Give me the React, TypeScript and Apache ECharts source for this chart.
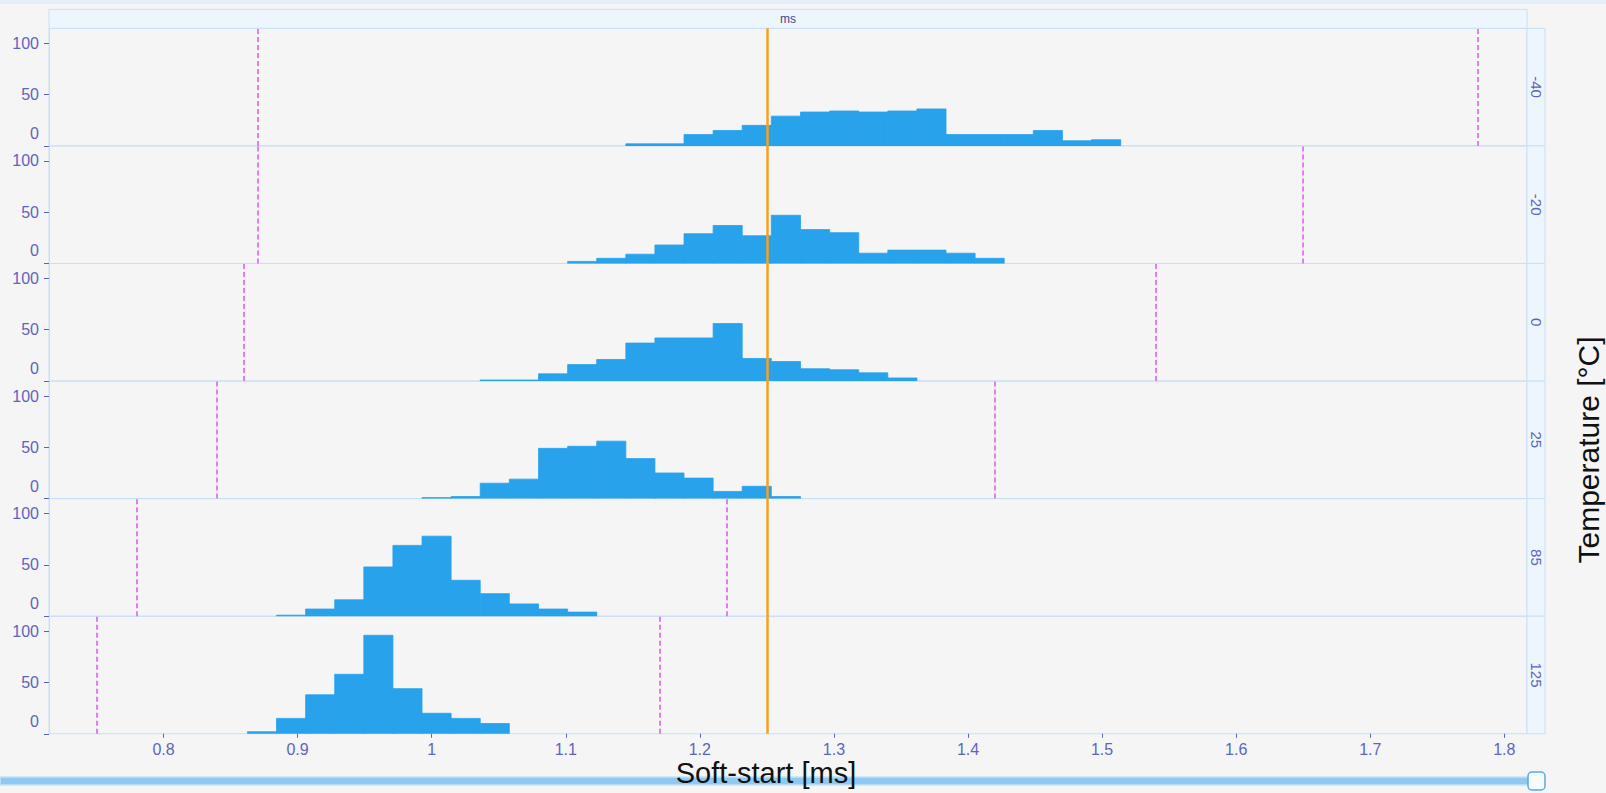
import React, { useEffect, useRef } from "react";
import * as echarts from "echarts";

// ---------- data ----------
const TEMPERATURES = ["-40", "-20", "0", "25", "85", "125"];

// histogram bin edges (ms)
const BIN_EDGES = [
  0.8626, 0.8843, 0.906, 0.9277, 0.9494, 0.9711, 0.9928, 1.0145, 1.0362, 1.0579,
  1.0797, 1.1014, 1.1231, 1.1448, 1.1665, 1.1882, 1.2099, 1.2316, 1.2533, 1.2751,
  1.2968, 1.3185, 1.3402, 1.3619, 1.3836, 1.4053, 1.427, 1.4487, 1.4704, 1.4921, 1.5139,
];

const COUNTS_M40 = [0, 0, 0, 0, 0, 0, 0, 0, 0, 0, 0, 0, 0, 2, 2, 11, 15, 20, 29, 33, 34, 33, 34, 36, 11, 11, 11, 15, 5, 6];
const COUNTS_M20 = [0, 0, 0, 0, 0, 0, 0, 0, 0, 0, 0, 2, 5, 9, 18, 29, 37, 27, 47, 33, 30, 10, 13, 13, 10, 5, 0, 0, 0, 0];
const COUNTS_0 = [0, 0, 0, 0, 0, 0, 0, 0, 1, 1, 7, 16, 21, 37, 42, 42, 56, 22, 19, 12, 11, 8, 3, 0, 0, 0, 0, 0, 0, 0];
const COUNTS_25 = [0, 0, 0, 0, 0, 0, 1, 2, 15, 19, 49, 51, 56, 39, 25, 20, 7, 12, 2, 0, 0, 0, 0, 0, 0, 0, 0, 0, 0, 0];
const COUNTS_85 = [0, 1, 7, 16, 48, 69, 78, 35, 22, 12, 7, 4, 0, 0, 0, 0, 0, 0, 0, 0, 0, 0, 0, 0, 0, 0, 0, 0, 0, 0];
const COUNTS_125 = [2, 15, 38, 58, 96, 44, 20, 15, 10, 0, 0, 0, 0, 0, 0, 0, 0, 0, 0, 0, 0, 0, 0, 0, 0, 0, 0, 0, 0, 0];
const PANEL_COUNTS = [COUNTS_M40, COUNTS_M20, COUNTS_0, COUNTS_25, COUNTS_85, COUNTS_125];

const LOWER_LIMITS = [0.8745, 0.8745, 0.8598, 0.8392, 0.7752, 0.7518];
const UPPER_LIMITS = [1.7803, 1.6505, 1.5445, 1.4249, 1.2185, 1.1662];
const TARGET = 1.25;

const X_TICKS = [0.8, 0.9, 1.0, 1.1, 1.2, 1.3, 1.4, 1.5, 1.6, 1.7, 1.8];
const Y_TICKS = [0, 50, 100];
const X_MIN = 0.7146;
const X_MAX = 1.8169;
const Y_MAX = 114.6;

const X_TITLE = "Soft-start [ms]";
const STRIP_TITLE = "Temperature [°C]";
const HEADER_TEXT = "ms";

// ---------- layout / style ----------
const W = 1606;
const H = 793;
const LEFT = 49;
const RIGHT_EDGE = 1527;
const PANEL_TOP = 28.3;
const PANEL_H = 117.58;
const STRIP_W = 18;

const BORDER = "#c6e0f7";
const STRIP_FILL = "#eef6fd";
const TICK_COLOR = "#5d64c0";
const BAR_COLOR = "#27a2eb";
const LIMIT_COLOR = "#e57cf3";
const TARGET_COLOR = "#f5a01f";
const BG = "#f5f5f5";
const NARROW = "'Liberation Sans Narrow', 'Arial Narrow', 'Liberation Sans', Arial, sans-serif";
const SANS = "'Liberation Sans', Arial, sans-serif";

export default function App() {
  const ref = useRef<HTMLDivElement>(null);

  useEffect(() => {
    if (!ref.current) return;
    const chart = echarts.init(ref.current, undefined, { renderer: "svg", width: W, height: H });

    const grids: any[] = [];
    const xAxes: any[] = [];
    const yAxes: any[] = [];
    const series: any[] = [];
    const graphics: any[] = [];

    // top thin band
    graphics.push({ type: "rect", shape: { x: 0, y: 0, width: W, height: 4 }, style: { fill: "#e3eef9" }, silent: true });
    // header strip
    graphics.push({
      type: "rect",
      shape: { x: LEFT, y: 9.3, width: RIGHT_EDGE - LEFT, height: PANEL_TOP - 9.3 },
      style: { fill: STRIP_FILL, stroke: BORDER, lineWidth: 1 },
      silent: true,
    });
    graphics.push({
      type: "text",
      x: (LEFT + RIGHT_EDGE) / 2,
      y: 18.8,
      style: { text: HEADER_TEXT, fill: "#3f4590", font: `12px ${NARROW}`, align: "center", verticalAlign: "middle" },
      silent: true,
    });

    PANEL_COUNTS.forEach((counts, i) => {
      const top = PANEL_TOP + i * PANEL_H;
      const last = i === PANEL_COUNTS.length - 1;
      grids.push({
        left: LEFT,
        width: RIGHT_EDGE - LEFT,
        top,
        height: PANEL_H,
        show: true,
        borderColor: BORDER,
        borderWidth: 1,
        backgroundColor: "transparent",
        containLabel: false,
      });
      xAxes.push({
        type: "value",
        gridIndex: i,
        min: X_MIN,
        max: X_MAX,
        show: true,
        axisLine: { show: false },
        splitLine: { show: false },
        axisTick: last
          ? { show: true, length: 4, lineStyle: { color: TICK_COLOR }, customValues: X_TICKS }
          : { show: false },
        axisLabel: last
          ? {
              show: true,
              customValues: X_TICKS,
              margin: 8,
              color: TICK_COLOR,
              fontSize: 16,
              fontFamily: NARROW,
              formatter: (v: number) => String(+v.toFixed(1)),
            }
          : { show: false },
      });
      yAxes.push({
        type: "value",
        gridIndex: i,
        min: 0,
        max: Y_MAX,
        axisLine: { show: true, lineStyle: { color: BORDER } },
        splitLine: { show: false },
        axisTick: { show: true, length: 5, lineStyle: { color: TICK_COLOR }, customValues: Y_TICKS },
        axisLabel: {
          show: true,
          customValues: Y_TICKS,
          margin: 10,
          color: TICK_COLOR,
          fontSize: 16,
          fontFamily: NARROW,
          formatter: (v: number) => (v === 0 ? "{z|0}" : String(v)),
          rich: { z: { padding: [0, 0, 25, 0], color: TICK_COLOR, fontSize: 16, fontFamily: NARROW } },
        },
      });

      const data: any[] = [];
      counts.forEach((c, k) => {
        if (c > 0) data.push([BIN_EDGES[k], BIN_EDGES[k + 1], c]);
      });

      series.push({
        type: "custom",
        xAxisIndex: i,
        yAxisIndex: i,
        encode: { x: [0, 1], y: 2 },
        data,
        clip: true,
        renderItem: (params: any, api: any) => {
          const p0 = api.coord([api.value(0), api.value(2)]);
          const p1 = api.coord([api.value(1), 0]);
          return {
            type: "rect",
            shape: { x: p0[0], y: p0[1], width: p1[0] - p0[0], height: p1[1] - p0[1] },
            style: { fill: BAR_COLOR, stroke: BAR_COLOR, lineWidth: 0.8 },
          };
        },
        markLine: {
          silent: true,
          symbol: "none",
          label: { show: false },
          animation: false,
          data: [
            { xAxis: LOWER_LIMITS[i], lineStyle: { color: LIMIT_COLOR, type: [5, 3], width: 2 } },
            { xAxis: UPPER_LIMITS[i], lineStyle: { color: LIMIT_COLOR, type: [5, 3], width: 2 } },
            { xAxis: TARGET, lineStyle: { color: TARGET_COLOR, type: "solid", width: 2.5 } },
          ],
        },
      });

      // right strip
      graphics.push({
        type: "rect",
        shape: { x: RIGHT_EDGE, y: top, width: STRIP_W, height: PANEL_H },
        style: { fill: STRIP_FILL, stroke: BORDER, lineWidth: 1 },
        silent: true,
      });
      graphics.push({
        type: "text",
        x: RIGHT_EDGE + STRIP_W / 2,
        y: top + PANEL_H / 2,
        rotation: -Math.PI / 2,
        style: {
          text: TEMPERATURES[i],
          fill: TICK_COLOR,
          font: `15px ${NARROW}`,
          align: "center",
          verticalAlign: "middle",
        },
        silent: true,
      });
    });

    // axis titles
    graphics.push({
      type: "text",
      x: 766,
      y: 773,
      style: { text: X_TITLE, fill: "#111", font: `29px ${SANS}`, align: "center", verticalAlign: "middle" },
      silent: true,
      z: 10,
    });
    graphics.push({
      type: "text",
      x: 1588,
      y: 450,
      rotation: Math.PI / 2,
      style: { text: STRIP_TITLE, fill: "#111", font: `30px ${SANS}`, align: "center", verticalAlign: "middle" },
      silent: true,
    });

    // slider bar at the bottom
    graphics.push({
      type: "rect",
      shape: { x: 0, y: 777, width: 1530, height: 8 },
      style: { fill: "#8fc8f0", stroke: "#c4e2f8", lineWidth: 1.5 },
      silent: true,
      z: 5,
    });
    graphics.push({
      type: "rect",
      shape: { x: 1528, y: 772, width: 17, height: 18, r: 4 },
      style: { fill: "#f6fbff", stroke: "#5aa9e6", lineWidth: 1.5 },
      silent: true,
      z: 6,
    });

    chart.setOption({
      animation: false,
      backgroundColor: BG,
      grid: grids,
      xAxis: xAxes,
      yAxis: yAxes,
      series,
      graphic: graphics,
    });

    return () => chart.dispose();
  }, []);

  return <div ref={ref} style={{ position: "fixed", left: 0, top: 0, width: W, height: H }} />;
}
